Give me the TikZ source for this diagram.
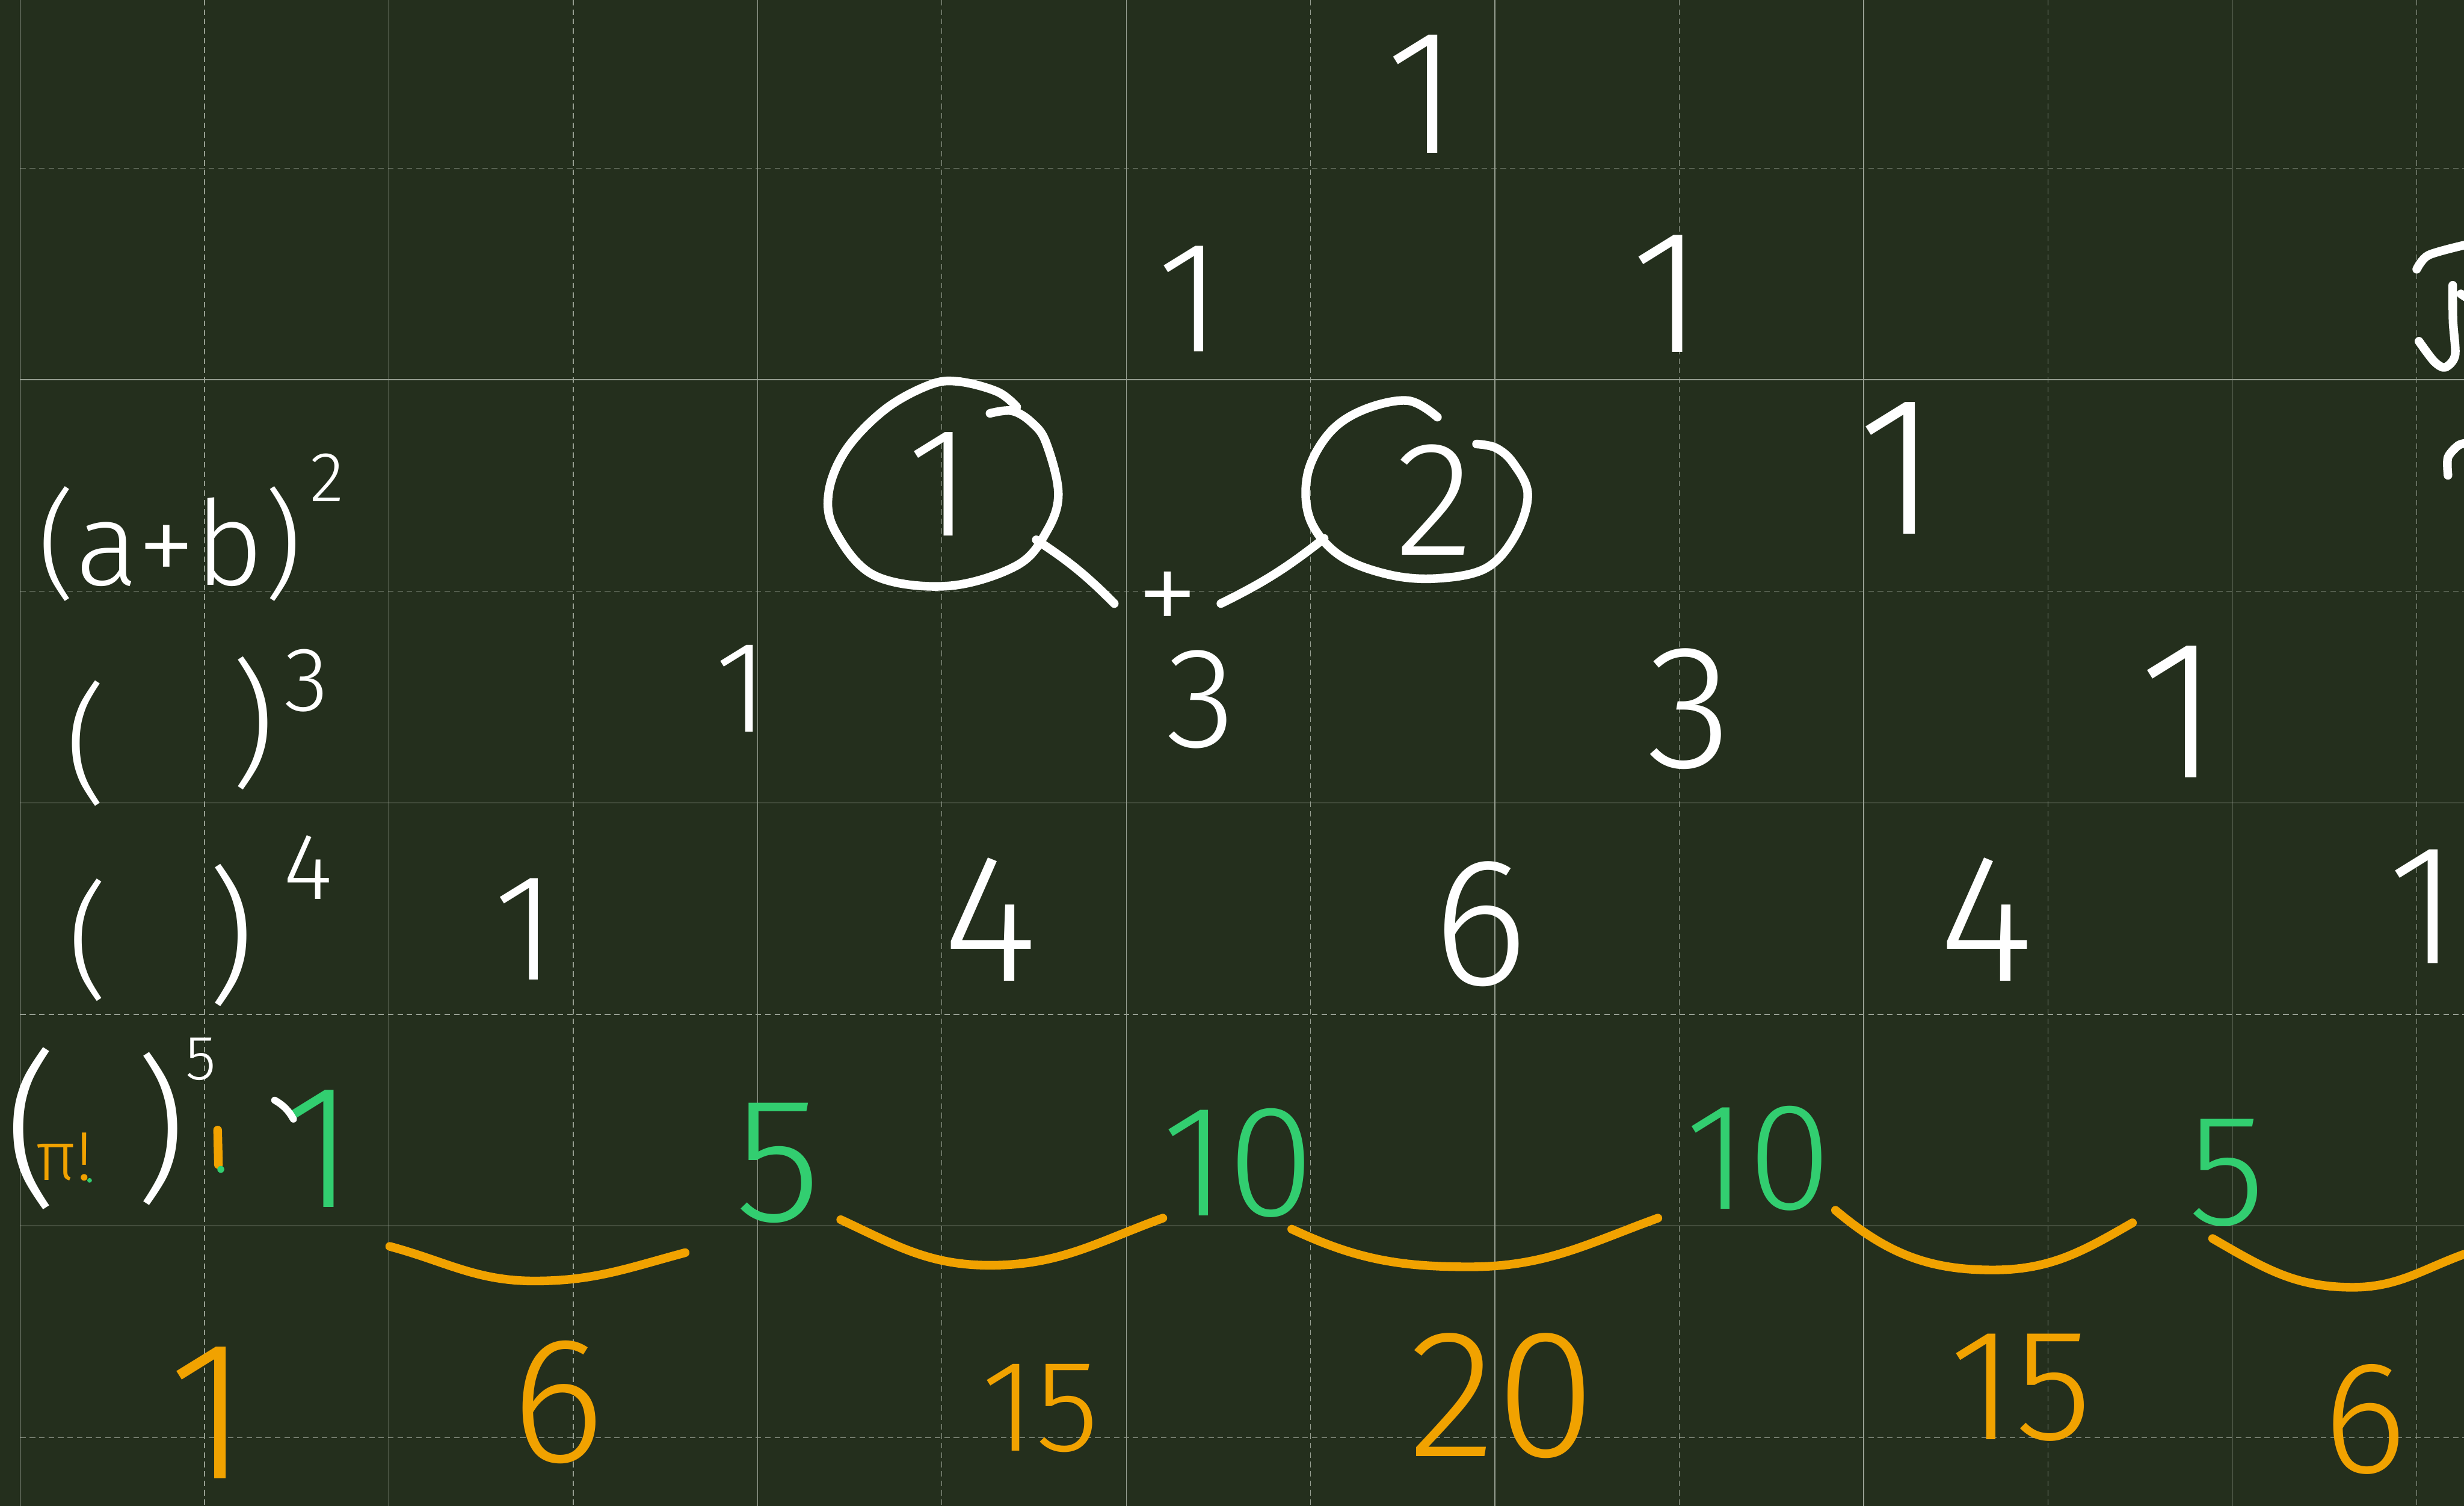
\documentclass[tikz,border=0pt]{standalone}
\usepackage{fontspec}
\newfontfamily\handfont{Fira Sans Light}
\usetikzlibrary{shapes.geometric}
\definecolor{board}{RGB}{36,47,29}
\definecolor{gridc}{RGB}{150,158,145}
\definecolor{ggreen}{RGB}{50,206,112}
\definecolor{gorange}{RGB}{241,162,0}
\tikzset{
  ink/.style={line width=5.5pt, line cap=round, line join=round},
  num/.style={inner sep=0pt, text=white, font=\handfont\fontsize{#1pt}{#1pt}\selectfont},
  gnum/.style={num=#1, text=ggreen},
  onum/.style={num=#1, text=gorange},
  gsolid/.style={draw=gridc, line width=0.5pt},
  gdash/.style={draw=gridc, line width=0.5pt, dash pattern=on 3.5pt off 2.5pt},
  ring/.style={ellipse, inner sep=0pt},
}
\begin{document}
\begin{tikzpicture}[x=1pt,y=-1pt]
\fill[board] (0,0) rectangle (1568,958);
\useasboundingbox (0,0) rectangle (1568,958);
\clip (0,0) rectangle (1568,958);
% grid
\foreach \k in {0,2,...,12}{\draw[gsolid] ({12.9+117.3*\k},0) -- ({12.9+117.3*\k},958);}
\foreach \k in {1,3,...,13}{\draw[gdash] ({12.9+117.3*\k},0) -- ({12.9+117.3*\k},958);}
\foreach \j in {1,3,5}{\draw[gsolid] (12.9,{107+134.6*\j}) -- (1568,{107+134.6*\j});}
\foreach \j in {0,2,4,6}{\draw[gdash] (12.9,{107+134.6*\j}) -- (1568,{107+134.6*\j});}

% row 0
\node[num=113] (r0a) at (905,60) {1};
% row 1
\node[num=101] (r1a) at (757,190) {1};
\node[num=112] (r1b) at (1061,187) {1};
% row 2
\node[num=75] (lab2) at (108,346) {(a+b)};
\node[num=45] (sup2) at (208,304) {2};
\node[num=99, ring, minimum width=146pt, minimum height=130pt] (c1) at (598,308) {1};
\node[ring, minimum width=142pt, minimum height=114pt] (c2) at (902,311) {};
\node[num=104] (two) at (913,318) {2};
\node[num=80, inner xsep=14pt] (plus) at (743,384) {+};
\node[num=126] (r2c) at (1208,298) {1};
% row 3
\node[num=82] (lp3) at (55,473) {(};
\node[num=87] (rp3) at (161,460) {)};
\node[num=58] (sup3) at (195,433) {3};
\node[num=83] (r3a) at (472,438) {1};
\node[num=91] (sum3) at (764,445) {3};
\node[num=112] (r3c) at (1075,451) {3};
\node[num=126] (r3d) at (1387,453) {1};
% row 4
\node[num=80] (lp4) at (56,598) {(};
\node[num=93] (rp4) at (147,595) {)};
\node[num=60] (sup4) at (196,552) {4};
\node[num=97] (r4a) at (334,591) {1};
\node[num=116] (r4b) at (630,585) {4};
\node[num=116] (r4c) at (942,588) {6};
\node[num=116] (r4d) at (1264,585) {4};
\node[num=109] (r4e) at (1542,577) {1};
% row 5 label
\node[num=106] (lp5) at (20,718) {(};
\node[num=100] (rp5) at (102,718) {)};
\node[num=40] (sup5) at (128,674) {5};
\node[onum=44] (fac) at (41,736) {π!};
% row 5 green
\node[gnum=112] (g1) at (203,731) {1};
\node[gnum=113] (g2) at (495,740) {5};
\node[gnum=101] (g3) at (788,740) {10};
\node[gnum=97] (g4) at (1119,737) {10};
\node[gnum=101] (g5) at (1417,746) {5};
% row 6 orange
\node[onum=126] (o1) at (133,899) {1};
\node[onum=114] (o2) at (355,892) {6};
\node[onum=83] (o3) at (662,896) {15};
\node[onum=116] (o4) at (956,888) {20};
\node[onum=101] (o5) at (1286,883) {15};
\node[onum=102] (o6) at (1505,903) {6};

% circles round 1 and 2
\draw[ink, white] plot[smooth, tension=0.6] coordinates {(630,263) (644,261.4) (656.4,268.7) (665.7,281.7) (673.5,314.3) (665.7,338.7) (647,359.8) (603.5,372.8) (556.8,366.3) (531.9,338.7) (527.2,314.3) (538.1,286.6) (563,260.6) (591,245.1) (609.7,242.7) (634.6,249.2) (647,258.9)};
\draw[ink, white] plot[smooth, tension=0.6] coordinates {(914.7,265.4) (896,254.9) (868,260.6) (846.2,275.2) (832.2,301.2) (833.7,330.5) (852.4,353.3) (883.5,365.5) (914.7,368) (945.8,361.4) (964.5,340.3) (972.2,314.3) (963,294.7) (952,285) (939.6,282.5)};
% connectors to the sum
\draw[ink, white] (c1.-30) to[bend left=6] (plus.west);
\draw[ink, white] (plus.east) to[bend right=6] (c2.208);

% row 5 marks
\draw[ink, gorange] (138.5,719) -- (139,741);
\fill[ggreen] (140.5,744) circle (2.2pt);
\fill[ggreen] (57,751) circle (1.5pt);
\draw[ink, white, line width=4.5pt] (174.8,700) to[bend left=15] (186.7,712);

% orange underbraces
\draw[ink, gorange] (248,793) to[out=-15,in=180] (340,815) to[out=0,in=195] (436,797);
\draw[ink, gorange] (535,776) to[out=-25,in=180] (630,805) to[out=0,in=200] (740,775);
\draw[ink, gorange] (822,782) to[out=-25,in=180] (935,806) to[out=0,in=200] (1055,775);
\draw[ink, gorange] (1168,770) to[out=-40,in=180] (1268,808) to[out=0,in=210] (1357,778);
\draw[ink, gorange] (1408,788) to[out=-30,in=180] (1497,819) to[out=0,in=200] (1568,798);

% cut-off strokes at the right edge
\draw[ink, white] plot[smooth] coordinates {(1537.9,171.3) (1545.3,162.4) (1568,156)};
\draw[ink, white] plot[smooth] coordinates {(1560.8,181.5) (1561,204.4) (1562.3,226) (1556,233.7) (1549,230) (1539.3,217.1)};
\draw[ink, white] (1566,187) -- (1569,189);
\draw[ink, white] plot[smooth] coordinates {(1557.8,302.4) (1557.8,291) (1564.5,283.3) (1570,282)};
\end{tikzpicture}
\end{document}
